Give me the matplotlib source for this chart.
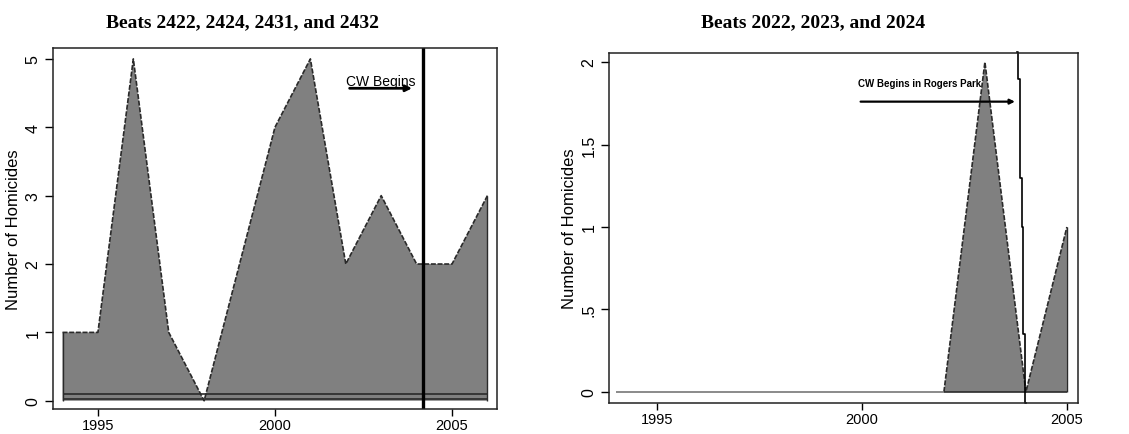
import numpy as np
import matplotlib
matplotlib.use("Agg")
from matplotlib import pyplot as plt

#Data (yearly homicide counts)
years_a = [1994, 1995, 1996, 1997, 1998, 1999, 2000, 2001, 2002, 2003, 2004, 2005, 2006]
homicides_a = [1, 1, 5, 1, 0, 2, 4, 5, 2, 3, 2, 2, 3]
years_b = [1994, 1995, 1996, 1997, 1998, 1999, 2000, 2001, 2002, 2003, 2004, 2005]
homicides_b = [0, 0, 0, 0, 0, 0, 0, 0, 0, 2, 0, 1]

title_a = "Beats 2422, 2424, 2431, and 2432"
title_b = "Beats 2022, 2023, and 2024"
xticks = [1995, 2000, 2005]
yticks_a = [0, 1, 2, 3, 4, 5]
yticklabels_a = ["0", "1", "2", "3", "4", "5"]
yticks_b = [0, 0.5, 1, 1.5, 2]
yticklabels_b = ["0", ".5", "1", "1.5", "2"]

#Where the program starts (vertical marker) and the arrow labels
start_a = 2004.18
start_b_x = [2003.78, 2003.84, 2003.88, 2003.92, 2003.96, 2004.0]
start_b_y = [2.06, 1.9, 1.3, 1.0, 0.35, -0.07]
label_a = "CW Begins"
label_b = "CW Begins in Rogers Park"

plt.rcParams["font.family"] = ["Liberation Sans", "DejaVu Sans"]
fill_col = "#808080"
edge_col = "#2a2a2a"

fig = plt.figure(figsize=(11.29, 4.35), dpi=100)
ax1 = fig.add_axes([0.0469, 0.0575, 0.3933, 0.830])
ax2 = fig.add_axes([0.5394, 0.0713, 0.4154, 0.8046])

#Left panel
ax1.fill_between(years_a, homicides_a, 0, facecolor=fill_col, edgecolor="none")
ax1.plot(years_a, homicides_a, color=edge_col, lw=1.2, ls=(0, (3, 1)))
ax1.hlines([0.1, 0.03], years_a[0], years_a[-1], color=edge_col, lw=1.2)
ax1.vlines(years_a[0], 0, homicides_a[0], color=edge_col, lw=1)
ax1.vlines(years_a[-1], 0, homicides_a[-1], color=edge_col, lw=1)
ax1.axvline(start_a, color="black", lw=2.4)
ax1.annotate("", xy=(2003.95, 4.57), xytext=(2002.03, 4.57),
             arrowprops=dict(arrowstyle="-|>", color="black", lw=2, mutation_scale=9))
ax1.text(2002.0, 4.67, label_a, fontsize=10, va="center", ha="left")
ax1.set_xlim(1993.73, 2006.27)
ax1.set_ylim(-0.12, 5.16)
ax1.set_yticks(yticks_a)
ax1.set_yticklabels(yticklabels_a, rotation=90, va="center")
ax1.set_ylabel("Number of Homicides", fontsize=12, labelpad=3)

#Right panel
ax2.fill_between(years_b, homicides_b, 0, facecolor=fill_col, edgecolor="none")
ax2.plot(years_b[8:], homicides_b[8:], color=edge_col, lw=1.2, ls=(0, (3, 1)))
ax2.hlines(0, years_b[0], years_b[8], color="#777777", lw=1.2)
ax2.hlines(0, years_b[8], years_b[-1], color=edge_col, lw=1.2)
ax2.vlines(years_b[-1], 0, homicides_b[-1], color=edge_col, lw=1)
ax2.plot(start_b_x, start_b_y, color="black", lw=1.2, drawstyle="steps-mid", clip_on=False)
ax2.annotate("", xy=(2003.8, 1.76), xytext=(1999.9, 1.76),
             arrowprops=dict(arrowstyle="-|>", color="black", lw=1.6, mutation_scale=7))
ax2.text(1999.9, 1.87, label_b, fontsize=7, va="center", ha="left", fontweight="bold")
ax2.set_xlim(1993.83, 2005.27)
ax2.set_ylim(-0.067, 2.055)
ax2.set_yticks(yticks_b)
ax2.set_yticklabels(yticklabels_b, rotation=90, va="center")
ax2.set_ylabel("Number of Homicides", fontsize=12, labelpad=3)

for ax in [ax1, ax2]:
    ax.set_xticks(xticks)
    ax.tick_params(axis="y", direction="out", length=6, width=1, labelsize=11.5, pad=3)
    ax.tick_params(axis="x", direction="out", length=5, width=1, labelsize=10.5, pad=1.5)
    for s in ax.spines.values():
        s.set_linewidth(1.1)
        s.set_color("#222222")

fig.text(0.215, 0.947, title_a, ha="center", va="center", fontsize=14,
         fontweight="bold", family="Liberation Serif")
fig.text(0.720, 0.947, title_b, ha="center", va="center", fontsize=14,
         fontweight="bold", family="Liberation Serif")

fig.savefig("out.png", dpi=100)
